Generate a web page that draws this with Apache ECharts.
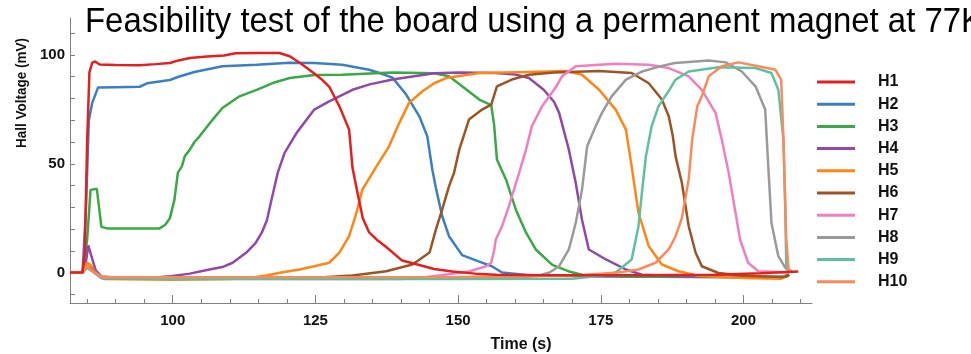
<!DOCTYPE html>
<html>
<head>
<meta charset="utf-8">
<script src="https://cdn.jsdelivr.net/npm/echarts@6/dist/echarts.min.js"></script>
<style>
  html, body { margin: 0; padding: 0; background: #fff; }
  #chart { width: 971px; height: 354px; }
</style>
</head>
<body>
<div id="chart"></div>
<script>
// Hall sensor traces, [time (s), voltage (mV)]
const seriesNames = ['H1', 'H2', 'H3', 'H4', 'H5', 'H6', 'H7', 'H8', 'H9', 'H10'];
const seriesColors = ['#e3201f', '#3a7fc1', '#3aa845', '#8e4aa6', '#ff8514',
                      '#9c5427', '#ef7fc0', '#9a9a9a', '#5fc0a0', '#fa8a5c'];

const h1 = [[82,0],[84.2,0],[84.6,10],[85.0,60],[85.4,92],[85.9,96.5],[86.4,97],[87.2,95.6],[90,95.4],[94.2,95.3],[97,95.8],[99.5,96.3],[101,97.5],[103,98.6],[106,99.3],[109,99.8],[111,100.8],[115,100.9],[118.7,100.9],[120.5,99.4],[122.5,96],[124.8,91.5],[126,89],[127.4,85.5],[129.2,76.4],[130.9,65.7],[131.5,48],[132.5,35],[133.3,25],[134.4,18.5],[135.8,15],[137.3,12],[140.2,5.5],[143.2,3.5],[145.8,1.6],[149,0.5],[153,-0.5],[156.6,-1],[165,-1.3],[180,-1.2],[195,-1],[203,-0.3],[209.6,0.5]];
const h2 = [[82,0],[84.2,0],[84.8,30],[85.3,70],[85.9,78],[86.9,85],[90,85.2],[94.2,85.4],[95.5,87],[99.5,88.5],[101,90],[103.8,92.2],[108.7,94.8],[114.7,95.5],[120.5,96.4],[124.8,96.3],[129.7,95.5],[134.4,93.2],[136.5,91.5],[138.5,89.6],[140.9,81.8],[143.2,71.8],[144.6,62.6],[145.5,47],[146.1,39],[147.2,26],[148.4,16.7],[150.7,8],[153.7,5],[155.9,2.9],[157.7,0],[162.4,-1.2],[175,-1.8],[200,-2.2],[207,-2.2],[208,-1]];
const h3 = [[82,0],[84.2,0],[85,15],[85.6,38],[86.7,38.5],[87.5,21],[88.5,20.3],[97.7,20.3],[98.7,22],[99.5,25],[100.3,33.5],[100.9,45.9],[101.6,48.8],[102.1,53.4],[103,56.5],[103.8,60],[104.7,62.6],[107,70.3],[108.7,75.6],[111.7,81],[114.7,84],[117.5,87.1],[120.5,89.4],[124.8,90.8],[129.7,90.9],[138.5,91.9],[145.8,91.6],[148.4,90.2],[150.7,85.6],[153.7,79.5],[155.8,77],[156.3,68],[156.8,52],[158.4,42.7],[160.1,29],[161.9,18.3],[163.6,10.6],[166.5,3.5],[169.4,0.5],[171.7,-1],[180,-1.8],[200,-2],[207.5,-2],[208,-1]];
const h4 = [[82,0],[84.2,0],[84.8,5],[85.2,12.5],[85.7,8],[86.5,1],[87.5,-1.8],[90,-2.3],[97,-2.3],[100,-1.6],[103,-0.5],[106,1.2],[108.7,2.5],[110.5,4.5],[112.9,9.2],[114.5,13.5],[115.6,18.3],[116.5,24],[117.3,33.5],[118.4,45.9],[119.6,55],[121.7,64.2],[124.8,74.9],[127.4,78.7],[131.5,84],[134.5,86.5],[138.5,88.7],[145.8,91.6],[150,92],[156.6,91.7],[160,91],[162.4,89.4],[165,84],[166.8,78.5],[167.7,73.4],[169.4,56.5],[170.6,41.3],[171.7,24.3],[172.9,10.6],[175.9,6],[179.4,1.4],[182.2,-1],[190,-1.7],[207,-2],[208,-1]];
const h5 = [[82,0],[84.2,0],[85,4.5],[85.6,3.5],[86.5,0],[88,-3],[100,-3.3],[110,-3],[114,-2.3],[116.4,-1.4],[119,0],[122.2,1.4],[124.8,2.9],[127.4,4.5],[129.2,9.2],[130.9,16.7],[132.2,27.5],[133.2,38],[135.7,48.8],[137.9,58],[139.7,68.8],[141.4,78],[143.7,83.2],[145.8,87],[147.9,89.4],[153.7,91.7],[162.4,92.2],[168.9,92.6],[171.7,90.9],[174.7,84],[177.6,74.9],[179.4,65.7],[180.4,48.8],[181.6,27.5],[183.4,12.1],[185.7,3.7],[188.6,0.6],[192,-1.5],[200,-2.5],[206.6,-2.8],[207.6,-1]];
const h6 = [[82,0],[84.2,0],[85,3],[86,1],[87.5,-2.5],[100,-2.8],[115,-2.7],[125.7,-2.3],[131.5,-1.4],[137.4,0.6],[142,3.7],[145,9.2],[146.1,19.7],[147.2,28.9],[148.4,39.6],[149.3,46],[150.2,56.5],[151.9,70.3],[154.2,74.9],[155.8,77.2],[156.8,85.6],[159.4,88.7],[162.4,90.9],[166.8,91.9],[174.7,92.6],[180.4,91.7],[183.4,87],[185.7,79.5],[186.9,71.8],[187.6,63],[188.1,53.4],[189.2,41.3],[190.4,21.3],[191.6,9.2],[192.7,2.9],[195.6,-0.2],[200,-1.5],[207,-2],[208,-1]];
const h7 = [[82,0],[84.2,0],[85,2.5],[86,0.5],[87.5,-2.5],[100,-2.8],[125,-3],[140,-3],[143,-2.5],[147,-1.2],[151.9,0.5],[154.9,2.9],[155.8,4.5],[156.3,10],[156.6,15.2],[157.7,21.3],[158.9,30.5],[160.7,45.9],[161.9,56.5],[162.9,67.2],[164.7,76.4],[166.8,84],[167.3,86],[168.2,90.2],[170.6,94.8],[177.6,96],[183.4,95.5],[186.9,94],[190.4,90.2],[192.7,84],[195.1,73.4],[196.2,61],[197.4,45.9],[198.6,27.5],[199.4,15.2],[200.8,4.5],[202.6,0.6],[208,0]];
const h8 = [[82,0],[84.2,0],[85,2.5],[86,0.5],[87.5,-2],[100,-2.3],[140,-2.5],[160,-2.3],[164,-1.5],[166,0],[167.7,2.9],[169.4,10.6],[170.6,22.8],[171.7,38],[172.6,58],[174.1,67.2],[175.2,73.4],[176.9,81],[179.4,88.7],[182.2,92.4],[185.7,95],[188,96.3],[193.9,97.5],[196.9,96.6],[199.7,92.4],[202.1,85.6],[203.8,74.9],[204.4,45.9],[204.9,22.8],[206.1,7.5],[207.3,2.3],[208,0.5]];
const h9 = [[82,0],[84.2,0],[85,2],[86,0.5],[87.5,-2.5],[100,-3],[150,-3],[170,-2.8],[175,-1.5],[177.6,0],[180.4,6],[181.6,21.3],[182.2,36.7],[182.9,53.4],[183.9,67.2],[185.1,76.4],[186.9,83.5],[188.1,88.7],[190.4,92.4],[195.6,94.4],[202.1,94],[204.9,91.7],[206.1,84],[207,61],[207.3,30.5],[207.5,2.9],[208,0.5]];
const h10 = [[82,0],[84.2,0],[85,3],[86,0.5],[87.5,-2],[100,-2.2],[150,-2],[170,-1.5],[178,0],[181.6,1.4],[184.6,4.5],[186.9,10.6],[188.1,16.7],[189.2,25],[190.4,43],[191,61],[191.9,76.4],[192.7,81],[193.9,90.2],[196.2,94.8],[199.1,96.6],[202.6,94.8],[205.6,93.2],[206.6,88.7],[207,61],[207.5,15.2],[207.9,1.4],[208.5,0.5]];

const traces = [h1, h2, h3, h4, h5, h6, h7, h8, h9, h10];

// Axis ticks and labels
const xMinorTicks = [85,90,95,100,105,110,115,120,125,130,135,140,145,150,155,160,165,170,175,180,185,190,195,200,205,210];
const xMajorTicks = [100, 125, 150, 175, 200];
const yTicks = [-10,0,10,20,30,40,50,60,70,80,90,100,110];
const yLabels = [0, 50, 100];

const titleText = 'Feasibility test of the board using a permanent magnet at 77K';
const xTitle = 'Time (s)';
const yTitle = 'Hall Voltage (mV)';

const boldFont = "'Liberation Sans', Arial, sans-serif";
const axisGray = '#808080';

const chart = echarts.init(document.getElementById('chart'), null, { renderer: 'canvas' });

chart.setOption({
  animation: false,
  backgroundColor: '#ffffff',
  color: seriesColors,
  grid: { left: 70, right: 159, top: 18, bottom: 51, containLabel: false },
  legend: {
    orient: 'vertical',
    left: 812,
    top: 68,
    icon: 'rect',
    itemWidth: 38,
    itemHeight: 3,
    itemGap: 4.2,
    data: seriesNames,
    textStyle: {
      fontFamily: boldFont,
      fontWeight: 'bold',
      fontSize: 16,
      lineHeight: 18,
      color: '#111',
      padding: [0, 0, 0, 18]
    }
  },
  xAxis: [
    {
      type: 'value',
      min: 82,
      max: 212,
      position: 'bottom',
      axisLine: { show: true, onZero: false, lineStyle: { color: axisGray, width: 1 } },
      axisTick: { show: true, inside: true, length: 4, customValues: xMinorTicks, lineStyle: { color: axisGray } },
      axisLabel: {
        customValues: xMajorTicks,
        margin: 10,
        color: '#111',
        fontFamily: boldFont,
        fontWeight: 'bold',
        fontSize: 15
      },
      splitLine: { show: false }
    },
    {
      type: 'value',
      min: 82,
      max: 212,
      position: 'bottom',
      axisLine: { show: false, onZero: false },
      axisTick: { show: true, inside: true, length: 8, customValues: xMajorTicks, lineStyle: { color: axisGray } },
      axisLabel: { show: false },
      splitLine: { show: false }
    }
  ],
  yAxis: {
    type: 'value',
    min: -14,
    max: 117,
    axisLine: { show: true, onZero: false, lineStyle: { color: axisGray, width: 1 } },
    axisTick: { show: true, inside: true, length: 5, customValues: yTicks, lineStyle: { color: axisGray } },
    axisLabel: {
      customValues: yLabels,
      margin: 5,
      color: '#111',
      fontFamily: boldFont,
      fontWeight: 'bold',
      fontSize: 15
    },
    splitLine: { show: false }
  },
  graphic: [
    {
      type: 'text',
      x: 85,
      y: 5,
      scaleX: 0.94,
      style: {
        text: titleText,
        font: "35px 'Liberation Sans', Arial, sans-serif",
        fill: '#000',
        verticalAlign: 'top'
      }
    },
    {
      type: 'text',
      x: 22,
      y: 93,
      rotation: Math.PI / 2,
      scaleX: 0.9,
      style: {
        text: yTitle,
        font: "bold 15px " + boldFont,
        fill: '#111',
        align: 'center',
        verticalAlign: 'middle'
      }
    },
    {
      type: 'text',
      x: 521,
      y: 345,
      style: {
        text: xTitle,
        font: "bold 16px " + boldFont,
        fill: '#111',
        align: 'center',
        verticalAlign: 'middle'
      }
    }
  ],
  series: traces.map((d, i) => ({
    name: seriesNames[i],
    type: 'line',
    data: d,
    xAxisIndex: 0,
    showSymbol: false,
    symbol: 'none',
    z: i === 0 ? 4 : 2,
    lineStyle: { width: 2.5, color: seriesColors[i] },
    itemStyle: { color: seriesColors[i] }
  }))
});
</script>
</body>
</html>
